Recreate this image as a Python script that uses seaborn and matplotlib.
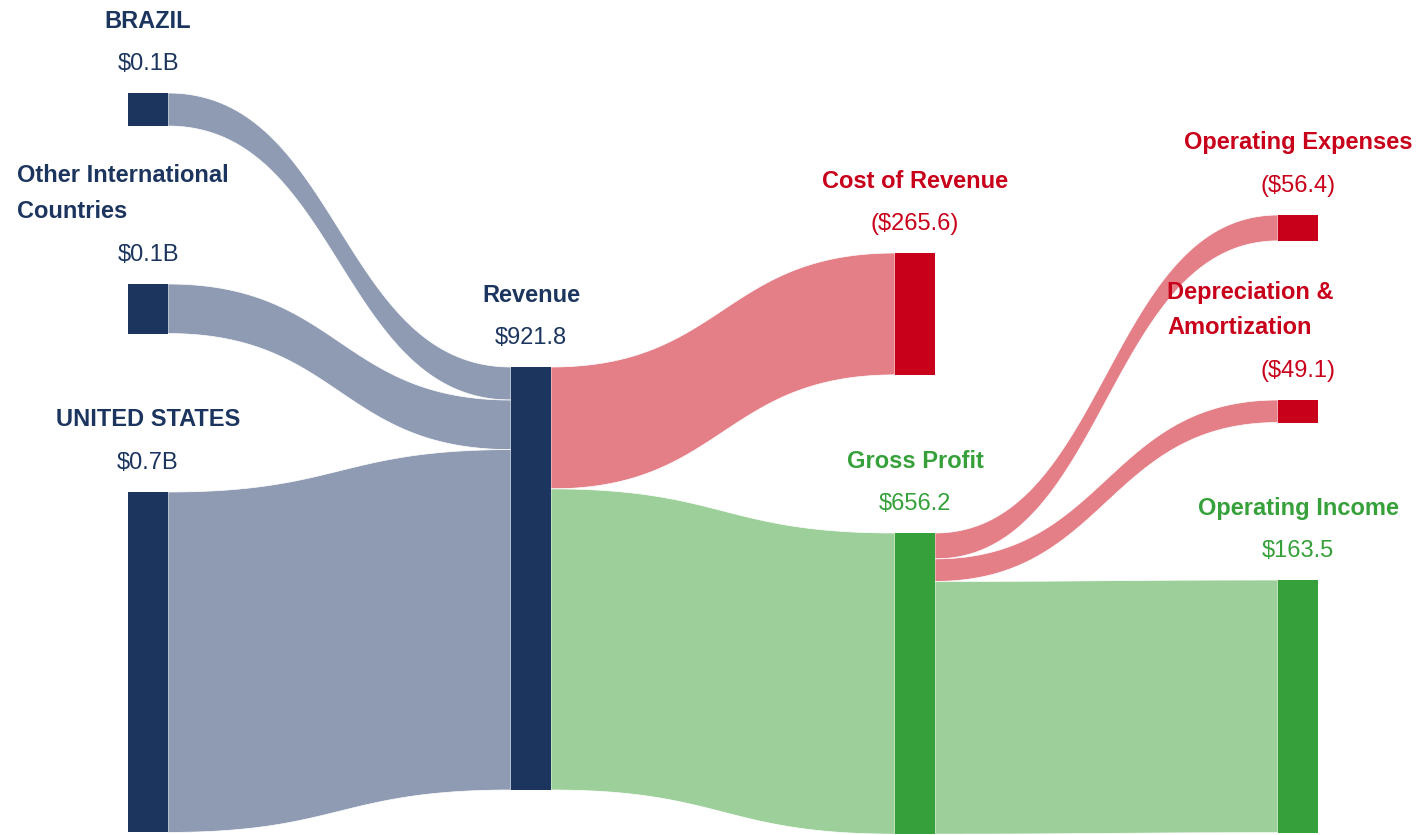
import numpy as np
import matplotlib
matplotlib.use("Agg")
import matplotlib.pyplot as plt
import seaborn as sns

# --- data ---
node_names = ["BRAZIL", "Other International\nCountries", "UNITED STATES", "Revenue",
              "Cost of Revenue", "Gross Profit", "Operating Expenses",
              "Depreciation &\nAmortization", "Operating Income"]
node_labels = ["$0.1B", "$0.1B", "$0.7B", "$921.8", "($265.6)", "$656.2",
               "($56.4)", "($49.1)", "$163.5"]
node_kind = ["rev", "rev", "rev", "rev", "cost", "profit", "cost", "cost", "profit"]

link_source = [0, 1, 2, 3, 3, 5, 5, 5]
link_target = [3, 3, 3, 4, 5, 6, 7, 8]
link_value = [72.0, 108.0, 741.8, 265.6, 656.2, 56.4, 49.1, 550.7]

# --- layout ---
W, H = 1417, 835
col_x = [128, 128, 128, 511, 895, 895, 1278, 1278, 1278]
node_top = [93, 284, 492, 367, 253, 533, 215, 400, 580]
node_w = 40
scale = 423 / 921.8  # px per unit
# left edge for multi-line names (None = centred on node)
label_left = [None, 17, None, None, None, None, None, 1167, None]

node_color = {"rev": "#1c355e", "cost": "#c8001a", "profit": "#36a13a"}
link_color = {"rev": "#8f9bb3", "cost": "#e47f88", "profit": "#9dcf9a"}

sns.set_theme(style="white")
plt.rcParams["font.family"] = ["Liberation Sans", "DejaVu Sans"]

fig = plt.figure(figsize=(W / 100, H / 100), dpi=100)
ax = fig.add_axes([0, 0, 1, 1])
ax.set_xlim(0, W)
ax.set_ylim(H, 0)
ax.axis("off")

n = len(node_names)
inflow = np.zeros(n)
outflow = np.zeros(n)
for s, t, v in zip(link_source, link_target, link_value):
    outflow[s] += v
    inflow[t] += v
node_h = np.maximum(inflow, outflow) * scale

out_off = np.array(node_top, dtype=float)
in_off = np.array(node_top, dtype=float)

tt = np.linspace(0, 1, 120)


def bez(a, b):
    return (1 - tt) ** 3 * a + 3 * (1 - tt) ** 2 * tt * a + 3 * (1 - tt) * tt ** 2 * b + tt ** 3 * b


for s, t, v in zip(link_source, link_target, link_value):
    h = v * scale
    x0 = col_x[s] + node_w
    x1 = col_x[t]
    xm = (x0 + x1) / 2
    xs = (1 - tt) ** 3 * x0 + 3 * (1 - tt) ** 2 * tt * xm + 3 * (1 - tt) * tt ** 2 * xm + tt ** 3 * x1
    y_top = bez(out_off[s], in_off[t])
    y_bot = bez(out_off[s] + h, in_off[t] + h)
    ax.fill(np.concatenate([xs, xs[::-1]]), np.concatenate([y_top, y_bot[::-1]]),
            color=link_color[node_kind[t]], ec="white", lw=0.5, zorder=1)
    out_off[s] += h
    in_off[t] += h

for i in range(n):
    c = node_color[node_kind[i]]
    ax.add_patch(plt.Rectangle((col_x[i], node_top[i]), node_w, node_h[i],
                               color=c, lw=0, zorder=2))
    cx = col_x[i] + node_w / 2
    lines = node_names[i].split("\n")
    k = len(lines)
    for j, line in enumerate(lines):
        y = node_top[i] - 72 - 36 * (k - 1 - j)
        if label_left[i] is None:
            ax.text(cx, y, line, ha="center", va="center", fontsize=17,
                    fontweight="bold", color=c)
        else:
            ax.text(label_left[i], y, line, ha="left", va="center", fontsize=17,
                    fontweight="bold", color=c)
    ax.text(cx, node_top[i] - 29, node_labels[i], ha="center", va="center",
            fontsize=17, color=c)

fig.savefig("out.png", dpi=100)
